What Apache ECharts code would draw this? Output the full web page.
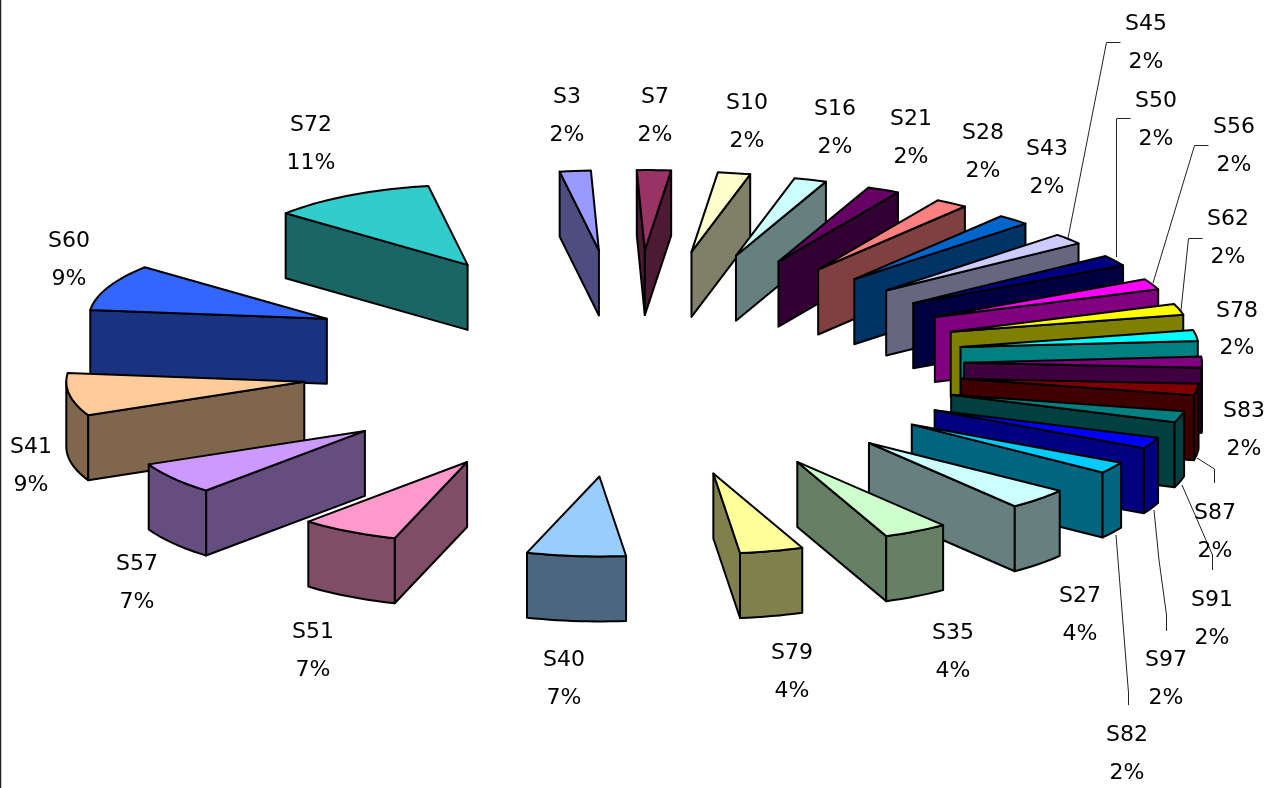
<!DOCTYPE html>
<html>
<head>
<meta charset="utf-8">
<style>
  html, body { margin: 0; padding: 0; background: #fff; }
  #chart { width: 1272px; height: 788px; }
</style>
<script src="https://cdn.jsdelivr.net/npm/echarts@6/dist/echarts.min.js"></script>
</head>
<body>
<div id="chart"></div>
<script>
// Slices, clockwise from the first one
const categories = ['S3','S7','S10','S16','S21','S28','S43','S45','S50','S56','S62','S78','S83','S87','S91','S97','S82','S27','S35','S79','S40','S51','S57','S41','S60','S72'];
const shares = [2.1,2.3,2.2,2.2,2.2,2.2,2.2,2.2,2.2,2.2,2.2,2.2,2.2,2.3,2.3,2.3,2.3,4.3,4.4,4.3,6.7,6.7,6.5,8.6,9.4,11.2];
const topColors = ['#9999FF','#993366','#FFFFCC','#CCFFFF','#660066','#FF8080','#0066CC','#CCCCFF','#000080','#FF00FF','#FFFF00','#00FFFF','#800080','#800000','#008080','#0000FF','#00CCFF','#CCFFFF','#CCFFCC','#FFFF99','#99CCFF','#FF99CC','#CC99FF','#FFCC99','#3366FF','#33CCCC'];

// Label centres: [x, name line y, percent line y]
const labelSpots = {
  S3:[567,97,135], S7:[655,97,135], S10:[747,103,141], S16:[835,109,147], S21:[911,119,157],
  S28:[983,133,171], S43:[1047,149,187], S45:[1146,24,62], S50:[1156,101,139], S56:[1234,127,165],
  S62:[1228,219,257], S78:[1237,311,348], S83:[1244,411,449], S87:[1215,513,551], S91:[1212,600,638],
  S97:[1166,660,698], S82:[1127,735,773], S27:[1080,596,634], S35:[953,633,671], S79:[792,653,691],
  S40:[564,660,698], S51:[313,632,670], S57:[137,564,602], S41:[31,447,485], S60:[69,241,279], S72:[311,125,163]
};

// Leader lines for labels pushed away from their slices
const leaderPaths = {
  S45:[[1120.5,42.5],[1106.5,42.5],[1068,238]],
  S50:[[1130.5,118.5],[1116.5,118.5],[1116.5,257]],
  S56:[[1208.5,145.5],[1194.5,145.5],[1153,283]],
  S62:[[1202.5,238.5],[1188.5,238.5],[1181,310]],
  S87:[[1197,458],[1214.5,469],[1214.5,483]],
  S91:[[1182,485],[1212.5,555],[1212.5,570]],
  S97:[[1154,510],[1159,560],[1166.5,615],[1166.5,631]],
  S82:[[1116,535],[1118,560],[1128.5,693],[1128.5,705]]
};

// Projection of the exploded pie
const view = {
  cx: 632, cy: 363.5,     // pie centre on the top plane
  explodeX: 332, explodeY: 113.5,
  radiusX: 238, radiusY: 80,
  depth: 65,
  firstAngle: -9.5        // degrees clockwise from twelve o'clock
};

const total = shares.reduce((a, b) => a + b, 0);
const rad = d => d * Math.PI / 180;

const spans = [];
shares.reduce((start, s) => {
  const end = start + s / total * 360;
  spans.push([start, end]);
  return end;
}, view.firstAngle);

// Back-to-front paint order
const paintRank = spans
  .map((sp, i) => ({ i, depth: -Math.cos(rad((sp[0] + sp[1]) / 2)) }))
  .sort((a, b) => a.depth - b.depth)
  .reduce((rank, item, r) => { rank[item.i] = r; return rank; }, {});

function darker(hex) {
  const n = parseInt(hex.slice(1), 16);
  const half = v => Math.round(v * 0.5);
  return 'rgb(' + half(n >> 16 & 255) + ',' + half(n >> 8 & 255) + ',' + half(n & 255) + ')';
}

function renderSlice(params, api) {
  const i = api.value(0);
  const [start, end] = spans[i];
  const mid = (start + end) / 2;
  const ax = view.cx + view.explodeX * Math.sin(rad(mid));
  const ay = view.cy - view.explodeY * Math.cos(rad(mid));
  const rim = a => [ax + view.radiusX * Math.sin(rad(a)), ay - view.radiusY * Math.cos(rad(a))];
  const drop = p => [p[0], p[1] + view.depth];
  const apex = [ax, ay];

  const arc = (from, to) => {
    const pts = [];
    const steps = Math.max(1, Math.ceil((to - from) / 2));
    for (let k = 0; k <= steps; k++) pts.push(rim(from + (to - from) * k / steps));
    return pts;
  };

  const side = darker(topColors[i]);
  const z2 = paintRank[i] * 4;
  const face = (points, fill, bump) => ({
    type: 'polygon',
    shape: { points },
    z2: z2 + bump,
    silent: true,
    style: { fill, stroke: '#000', lineWidth: 2, lineJoin: 'round' }
  });

  const children = [];
  // Radial walls, only those turned towards the viewer
  if (Math.sin(rad(start)) < 0) {
    const p = rim(start);
    children.push(face([apex, p, drop(p), drop(apex)], side, 0));
  }
  if (Math.sin(rad(end)) > 0) {
    const p = rim(end);
    children.push(face([apex, p, drop(p), drop(apex)], side, 0));
  }
  // Outer wall on the near half of the rim
  const from = Math.max(start, 90), to = Math.min(end, 270);
  if (to > from) {
    const pts = arc(from, to);
    children.push(face(pts.concat(pts.slice().reverse().map(drop)), side, 1));
  }
  // Top surface
  children.push(face([apex].concat(arc(start, end)), topColors[i], 2));
  return { type: 'group', children };
}

function renderLabel(params, api) {
  const i = api.value(0);
  const name = categories[i];
  const [x, y1, y2] = labelSpots[name];
  const font = '22px "DejaVu Sans"';
  const text = (t, y) => ({
    type: 'text',
    silent: true,
    z2: 1000,
    style: { text: t, x, y, fill: '#000', font, align: 'center', verticalAlign: 'middle' }
  });
  const children = [text(name, y1), text(Math.round(api.value(1)) + '%', y2)];
  if (leaderPaths[name]) {
    children.push({
      type: 'polyline',
      silent: true,
      z2: 999,
      shape: { points: leaderPaths[name] },
      style: { fill: null, stroke: '#222', lineWidth: 1 }
    });
  }
  return { type: 'group', children };
}

const sliceData = categories.map((name, i) => ({ name, value: [i, shares[i]] }));

const chart = echarts.init(document.getElementById('chart'), null, { renderer: 'canvas' });
chart.setOption({
  animation: false,
  backgroundColor: '#fff',
  graphic: [{
    type: 'line',
    silent: true,
    shape: { x1: 0.5, y1: 0, x2: 0.5, y2: 788 },
    style: { stroke: '#222', lineWidth: 1.5 }
  }],
  series: [
    { type: 'custom', coordinateSystem: 'none', renderItem: renderSlice, data: sliceData, clip: false, z: 2 },
    { type: 'custom', coordinateSystem: 'none', renderItem: renderLabel, data: sliceData, clip: false, z: 3 }
  ]
});
</script>
</body>
</html>
